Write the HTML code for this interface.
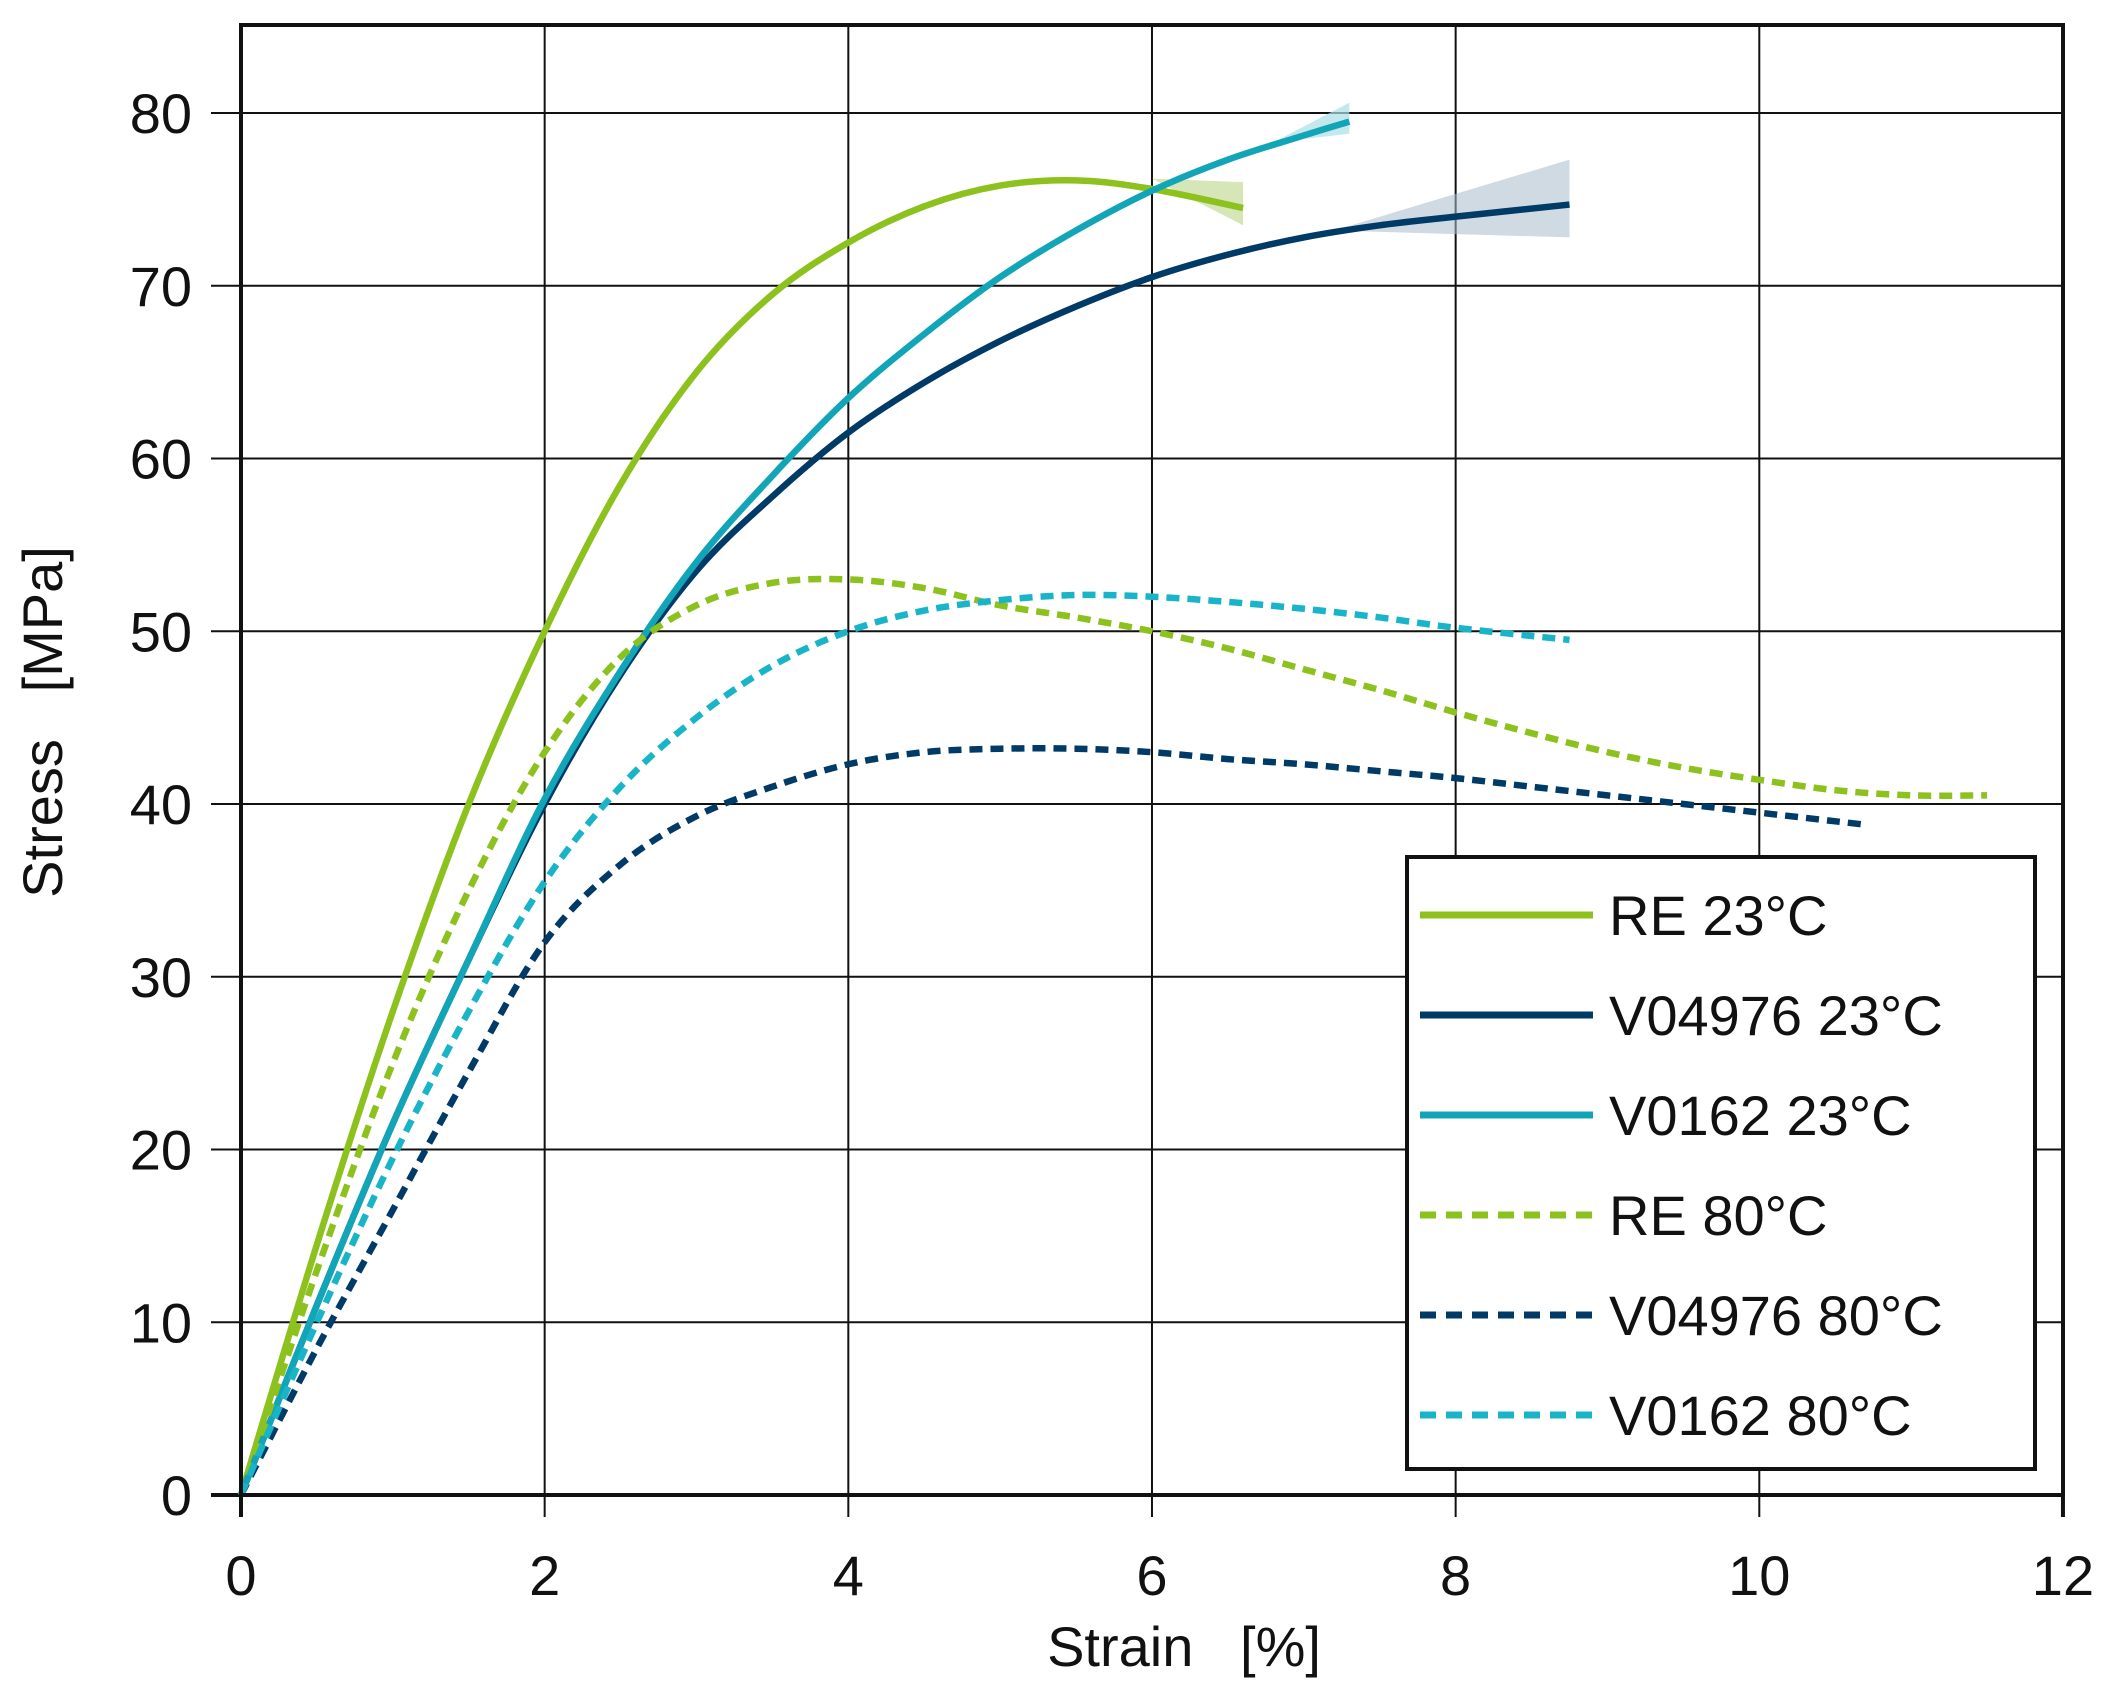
<!DOCTYPE html>
<html><head><meta charset="utf-8"><style>
html,body{margin:0;padding:0;background:#fff;}
svg{display:block;}
text{font-family:"Liberation Sans",sans-serif;fill:#111;}
</style></head><body>
<svg id="s" width="2115" height="1701" viewBox="0 0 2115 1701" xmlns="http://www.w3.org/2000/svg">
<g id="grid" stroke="#111" stroke-width="2"></g>
<g id="bands"></g>
<g id="curves" fill="none" stroke-linecap="butt" stroke-linejoin="round"></g>
<rect x="241" y="25" width="1822" height="1470" fill="none" stroke="#111" stroke-width="4"/>
<g id="labels" font-size="56"></g>
<text x="1184" y="1666" font-size="56" text-anchor="middle" xml:space="preserve">Strain   [%]</text>
<text transform="translate(62,722) rotate(-90)" font-size="56" text-anchor="middle" xml:space="preserve">Stress   [MPa]</text>
<rect x="1407" y="857" width="628" height="612" fill="#fff" stroke="#111" stroke-width="4"/>
<g id="legend" font-size="56"></g>
</svg>
<script>
var X=function(v){return 241+v*151.83;}, Y=function(v){return 1495-v*17.275;};
var ns="http://www.w3.org/2000/svg";
function el(p,t,a,txt){var e=document.createElementNS(ns,t);for(var k in a)e.setAttribute(k,a[k]);if(txt!==undefined)e.textContent=txt;document.getElementById(p).appendChild(e);return e;}
for(var i=2;i<=10;i+=2)el("grid","line",{x1:X(i),y1:25,x2:X(i),y2:1517});
el("grid","line",{x1:X(0),y1:1495,x2:X(0),y2:1517,"stroke-width":4});
el("grid","line",{x1:X(12),y1:1495,x2:X(12),y2:1517,"stroke-width":4});
for(var v=10;v<=80;v+=10)el("grid","line",{x1:211,y1:Y(v),x2:2063,y2:Y(v)});
el("grid","line",{x1:211,y1:Y(0),x2:241,y2:Y(0),"stroke-width":4});
for(var v=0;v<=80;v+=10)el("labels","text",{x:192,y:Y(v)+20,"text-anchor":"end"},""+v);
for(var i=0;i<=12;i+=2)el("labels","text",{x:X(i),y:1595,"text-anchor":"middle"},""+i);
function path(pts){var P=pts.map(function(p){return[X(p[0]),Y(p[1])];});var d="M"+P[0][0]+","+P[0][1];
for(var i=0;i<P.length-1;i++){var p0=P[i-1]||P[i],p1=P[i],p2=P[i+1],p3=P[i+2]||P[i+1];
d+=" C"+(p1[0]+(p2[0]-p0[0])/6)+","+(p1[1]+(p2[1]-p0[1])/6)+" "+(p2[0]-(p3[0]-p1[0])/6)+","+(p2[1]-(p3[1]-p1[1])/6)+" "+p2[0]+","+p2[1];}return d;}
var G="#8cc11e",N="#003a66",T="#12a5b8",T2="#1ab4c9";
el("bands","path",{d:"M"+X(7.2)+","+Y(73.2)+" L"+X(8.75)+","+Y(77.3)+" L"+X(8.75)+","+Y(72.8)+" Z",fill:"#aabccc",opacity:0.55});
el("bands","path",{d:"M"+X(6.0)+","+Y(76.2)+" L"+X(6.6)+","+Y(76)+" L"+X(6.6)+","+Y(73.5)+" Z",fill:"#c5dc9a",opacity:0.7});
el("bands","path",{d:"M"+X(6.8)+","+Y(78.3)+" L"+X(7.3)+","+Y(80.6)+" L"+X(7.3)+","+Y(78.8)+" Z",fill:"#a9dfe6",opacity:0.7});
var S=[
[G,0,[[0,0],[0.5,14.5],[1,28],[1.5,40],[2,50],[2.5,58.5],[3,65],[3.5,69.5],[4,72.5],[4.5,74.6],[5,75.8],[5.5,76.1],[6,75.6],[6.6,74.5]]],
[N,0,[[0,0],[0.5,11],[1,21.5],[1.5,31],[2,40],[2.5,47.5],[3,53.5],[3.5,57.8],[4,61.5],[4.5,64.4],[5,66.8],[5.5,68.8],[6,70.5],[6.5,71.8],[7,72.8],[7.5,73.5],[8,74],[8.75,74.7]]],
[T,0,[[0,0],[0.5,11],[1,21.5],[1.5,31],[2,40.3],[2.5,47.7],[3,54],[3.5,59],[4,63.5],[4.5,67.2],[5,70.5],[5.5,73.2],[6,75.5],[6.5,77.3],[7,78.7],[7.3,79.5]]],
[G,1,[[0,0],[0.5,13],[1,25],[1.5,35],[2,43],[2.5,48.5],[3,51.5],[3.5,52.8],[4,53],[4.5,52.5],[5,51.5],[5.5,50.8],[6,50],[6.5,49],[7,47.8],[7.5,46.6],[8,45.3],[8.5,44.1],[9,43],[9.5,42.1],[10,41.4],[10.5,40.8],[11,40.5],[11.5,40.5]]],
[N,1,[[0,0],[0.5,8.5],[1,16.5],[1.5,24.5],[2,32],[2.5,36.5],[3,39.3],[3.5,41],[4,42.3],[4.5,43],[5,43.2],[5.5,43.2],[6,43],[6.5,42.6],[7,42.3],[7.5,41.9],[8,41.5],[8.5,41],[9,40.5],[9.5,40],[10,39.5],[10.7,38.8]]],
[T2,1,[[0,0],[0.5,10],[1,19.5],[1.5,28],[2,35.5],[2.5,41],[3,45],[3.5,48],[4,50],[4.5,51.2],[5,51.8],[5.5,52.1],[6,52],[6.5,51.7],[7,51.3],[7.5,50.8],[8,50.2],[8.75,49.5]]]];
var names=["RE 23°C","V04976 23°C","V0162 23°C","RE 80°C","V04976 80°C","V0162 80°C"];
S.forEach(function(s,i){var a={d:path(s[2]),stroke:s[0],"stroke-width":6.5};if(s[1])a["stroke-dasharray"]="13,8";el("curves","path",a);
var ly=915+i*100;var b={x1:1420,y1:ly,x2:1593,y2:ly,stroke:s[0],"stroke-width":7};if(s[1])b["stroke-dasharray"]="16,10";el("legend","line",b);
el("legend","text",{x:1609,y:ly+20},names[i]);});
</script>
</body></html>
